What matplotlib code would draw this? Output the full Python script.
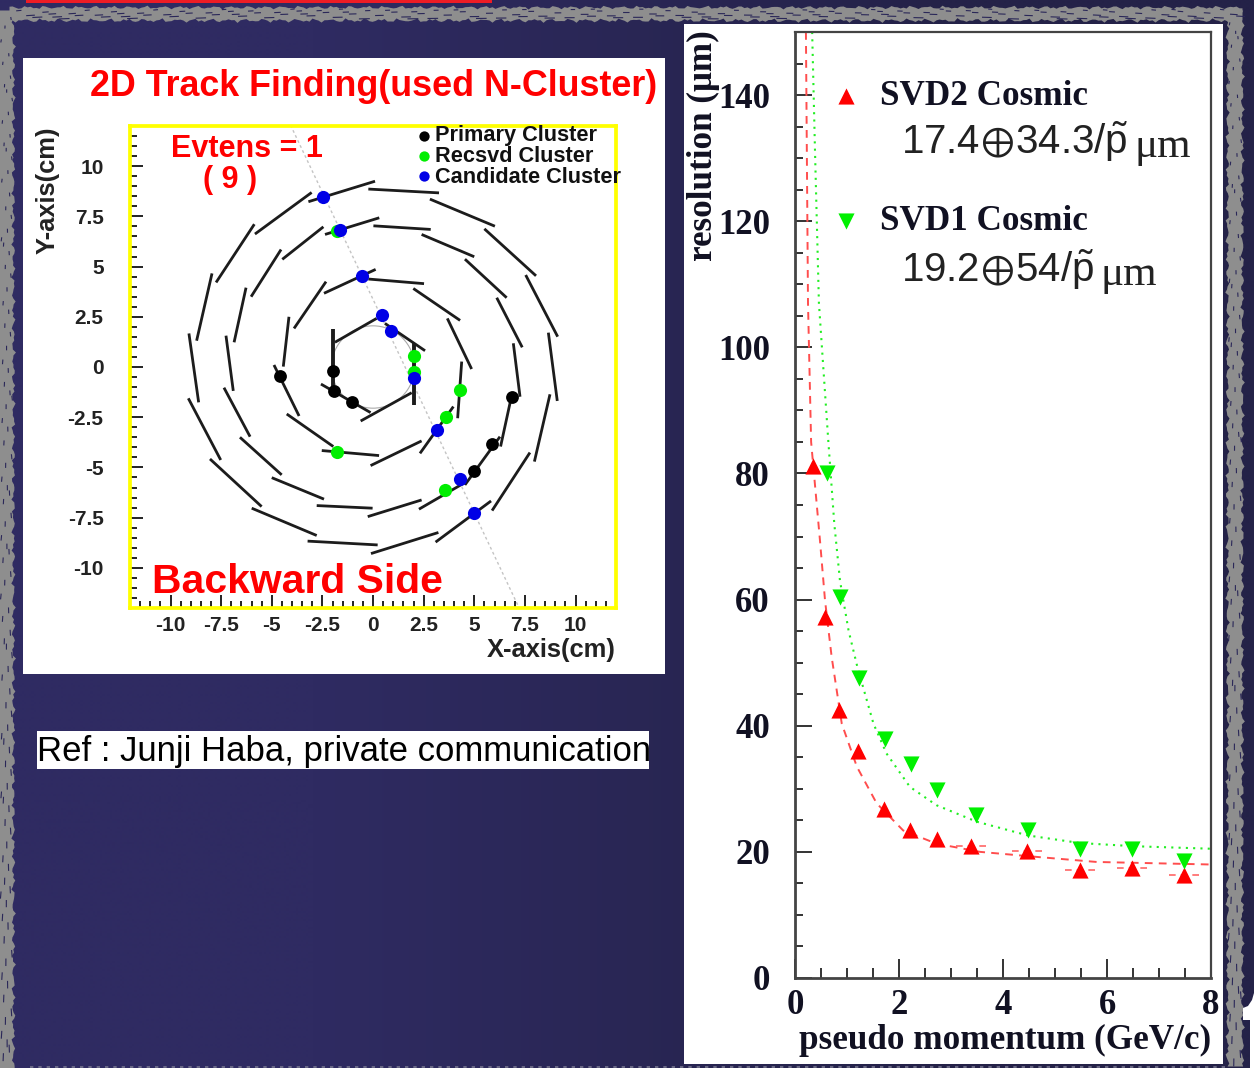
import numpy as np
import matplotlib
matplotlib.use("Agg")
import matplotlib.pyplot as plt
from matplotlib.patches import Rectangle, Circle, Polygon
from matplotlib.collections import LineCollection
from matplotlib.ticker import MultipleLocator

W, H = 1254, 1068

# ---------- left panel data (cm) ----------
ring4 = [(-3.19,8.23,0.10,9.25),(-0.23,8.86,3.26,8.67),(2.81,8.36,6.02,7.01),(5.50,6.88,8.05,4.54),
         (7.54,4.58,9.12,1.51),(8.66,1.71,9.10,-1.69),(8.74,-1.36,7.97,-4.71),(7.75,-4.26,5.88,-7.15),
         (5.83,-6.67,3.09,-8.72),(3.23,-8.24,-0.10,-9.29),(0.23,-8.86,-3.23,-8.67),(-2.78,-8.39,-5.99,-7.03),
         (-5.50,-6.95,-8.05,-4.58),(-7.52,-4.63,-9.12,-1.56),(-8.61,-1.76,-9.09,1.67),(-8.71,1.31,-7.95,4.66),
         (-7.75,4.21,-5.86,7.11),(-5.83,6.62,-3.03,8.69)]
ring3 = [(-2.37,6.60,0.31,7.43),(0.02,7.03,2.85,6.85),(2.40,6.60,5.00,5.49),(4.54,5.37,6.60,3.45),
         (6.11,3.45,7.37,0.98),(6.93,1.18,7.26,-1.48),(6.80,-1.64,6.30,-3.96),(6.27,-3.47,4.54,-5.87),
         (4.63,-5.70,2.27,-7.08),(2.40,-6.62,-0.26,-7.45),(-0.02,-7.03,-2.78,-6.90),(-2.42,-6.58,-5.00,-5.51),
         (-4.51,-5.37,-6.57,-3.50),(-6.07,-3.47,-7.36,-1.03),(-6.90,-1.19,-7.26,1.56),(-6.86,1.23,-6.27,3.95),
         (-6.02,3.50,-4.54,5.85),(-4.48,5.36,-2.45,6.98)]
ring2 = [(-2.42,3.67,0.13,4.86),(-0.23,4.38,2.52,4.15),(1.99,3.91,4.30,2.32),(3.67,2.42,4.87,-0.10),
         (4.38,0.27,4.18,-2.55),(3.97,-1.97,2.32,-4.30),(2.40,-3.68,-0.12,-4.91),(0.30,-4.41,-2.53,-4.16),
         (-1.96,-3.96,-4.26,-2.34),(-3.65,-2.44,-4.89,0.10),(-4.43,0.02,-4.15,2.50),(-3.90,1.92,-2.32,4.25)]
ring1 = [(-1.88,1.23,0.18,2.42),(0.59,2.17,2.57,0.81),(1.91,-1.28,-0.61,-2.69),(-0.12,-2.27,-2.57,-0.85)]
ring1_thick = [(2.04,1.18,2.04,-1.89),(-1.99,-1.48,-1.99,1.89)]
track_x = [-4.07, 7.18]
track_y = [12.04, -11.92]
primary_x = [-4.59,-1.99,-1.93,-1.05,6.85,5.88,4.99]
primary_y = [-0.45,-0.20,-1.19,-1.72,-1.51,-3.81,-5.19]
recsvd_x = [2.01,2.01,4.28,3.60,-1.79,3.56,-1.79]
recsvd_y = [0.53,-0.27,-1.14,-2.47,-4.23,-6.12,6.78]
cand_x = [-2.45,-1.61,-0.53,0.46,0.91,2.01,3.16,4.28,5.00]
cand_y = [8.44,6.82,4.54,2.57,1.79,-0.56,-3.12,-5.56,-7.28]
left_ticks = [-10,-7.5,-5,-2.5,0,2.5,5,7.5,10]
left_ticklabels = ["-10","-7.5","-5","-2.5","0","2.5","5","7.5","10"]

# ---------- right panel data ----------
svd2_p = [0.35,0.58,0.84,1.21,1.72,2.22,2.74,3.39,4.47,5.48,6.48,7.48]
svd2_r = [81.2,57.2,42.5,36.0,26.8,23.4,22.0,20.9,20.2,17.1,17.5,16.4]
svd1_p = [0.61,0.87,1.24,1.73,2.23,2.74,3.49,4.49,5.49,6.49,7.49]
svd1_r = [80.1,60.4,47.6,37.9,33.9,29.8,25.9,23.5,20.4,20.4,18.5]
fit2_p = [0.21,0.25,0.31,0.48,0.577,0.705,0.90,1.19,1.57,2.08,2.72,3.56,4.65,5.80,7.98]
fit2_r = [150,107,85,69.4,59.9,50.9,40.3,33.5,27.7,23.4,21.3,20.0,19.2,18.4,18.0]
fit1_p = [0.33,0.385,0.46,0.64,0.756,0.865,1.03,1.20,1.51,1.76,2.21,2.72,3.49,4.48,5.48,6.51,7.98]
fit1_r = [150,131,107,85.2,72,63,55.1,49.3,40.3,35.6,30.3,27.4,24.8,22.6,21.4,20.9,20.5]
right_xticks = [0,2,4,6,8]
right_yticks = [0,20,40,60,80,100,120,140]

plt.rcParams['font.family'] = ['Liberation Sans', 'DejaVu Sans']
plt.rcParams['mathtext.fontset'] = 'custom'
plt.rcParams['mathtext.rm'] = 'Liberation Sans'
plt.rcParams['mathtext.it'] = 'Liberation Sans'
plt.rcParams['mathtext.fallback'] = 'stixsans'
fig = plt.figure(figsize=(W/100, H/100), dpi=100)

def axes_px(l, t, r, b, **kw):
    return fig.add_axes([l/W, 1-b/H, (r-l)/W, (b-t)/H], **kw)

def T(x, y, s, **kw):
    kw.setdefault('ha', 'left')
    kw.setdefault('va', 'center')
    return fig.text(x/W, 1-y/H, s, **kw)

# ---------- page background ----------
bg = axes_px(0, 0, W, H)
bg.set_xlim(0, W); bg.set_ylim(H, 0); bg.axis('off')
grad = np.zeros((2, 2, 3))
grad[:, 0] = np.array([47, 43, 98])/255
grad[:, 1] = np.array([36, 34, 72])/255
bg.imshow(grad, extent=(0, W, H, 0), aspect='auto', interpolation='bilinear', zorder=0)
bg.set_xlim(0, W); bg.set_ylim(H, 0)

GR = '#8e8e8e'
NV = '#2a2758'
def wob(t, a, b):
    return a*np.sin(t*0.37+b) + 0.6*a*np.sin(t*1.13+2*b) + 0.5*a*np.sin(t*2.71+3*b)

tx = np.arange(9, 1244, 3.0)
bg.fill_between(tx, 7+wob(tx,1.0,1), 20+wob(tx,1.2,2), color=GR, lw=0, zorder=1)
ty = np.arange(10, H+3, 3.0)
bg.fill_betweenx(ty, -1, 13+wob(ty,1.2,3), color=GR, lw=0, zorder=1)
ty2 = ty[ty < 1068]
bg.fill_betweenx(ty2, 1227+wob(ty2,1.2,4), 1242+wob(ty2,1.2,5), color=GR, lw=0, zorder=1)

# texture in the grey frame (decoration only)
idx = np.arange(1, 360)
fr = (idx*0.6180339887) % 1
fr2 = (idx*0.7548776662) % 1
segs = []
for f, g in zip(fr[:160], fr2[:160]):
    x0 = 10+f*1230; y0 = 9+g*10
    segs.append([(x0, y0), (x0+4+7*g, y0+1.0*(f-0.5))])
for f, g in zip(fr[160:260], fr2[160:260]):
    y0 = 15+f*1050; x0 = 1+g*11
    segs.append([(x0, y0), (x0+1.2*(g-0.5), y0+3+5*f)])
for f, g in zip(fr[260:], fr2[260:]):
    y0 = 15+f*1050; x0 = 1229+g*12
    segs.append([(x0, y0), (x0+1.2*(g-0.5), y0+3+5*f)])
bg.add_collection(LineCollection(segs, colors=NV, linewidths=0.8, zorder=2))

bg.add_patch(Rectangle((26, 0), 466, 3, color='#ee1c25', lw=0, zorder=3))
bg.plot([30, 1225], [1066.5, 1066.5], color='#77768f', lw=1.2, ls=(0, (2, 3)), zorder=3)
# bottom right corner of the page
bg.add_patch(Polygon([(1243, 1008), (1248, 1006), (1252, 1000), (1254, 993), (1254, 1020), (1243, 1020)],
                     closed=True, color='white', lw=0, zorder=3))
bg.add_patch(Rectangle((1250, 1020), 5, 50, color='white', lw=0, zorder=3))

# white panels
bg.add_patch(Rectangle((23, 58), 642, 616, color='white', lw=0, zorder=4))
bg.add_patch(Rectangle((684, 24), 539, 1040, color='white', lw=0, zorder=4))
bg.add_patch(Rectangle((37, 731), 612, 38, color='white', lw=0, zorder=4))

# ---------- left panel ----------
ax = axes_px(130, 126, 616, 608)
ax.set_xlim(-12, 12); ax.set_ylim(-12, 12)
ax.patch.set_alpha(0)
for s in ax.spines.values():
    s.set_color('#ffff00'); s.set_linewidth(2.7)
ax.set_xticks(left_ticks); ax.set_xticklabels(left_ticklabels)
ax.set_yticks(left_ticks); ax.set_yticklabels(left_ticklabels)
ax.xaxis.set_minor_locator(MultipleLocator(0.5))
ax.yaxis.set_minor_locator(MultipleLocator(0.5))
ax.tick_params(which='major', direction='in', length=9.5, width=1.4, color='#222222')
ax.tick_params(which='minor', direction='in', length=5, width=1.4, color='#222222')
ax.tick_params(axis='x', which='major', pad=6, labelsize=15, labelcolor='#222222')
ax.tick_params(axis='y', which='major', pad=19, labelsize=15, labelcolor='#222222')
for lb in ax.get_xticklabels()+ax.get_yticklabels():
    lb.set_fontweight('bold')

ax.add_patch(Circle((0, 0), 2.05, fill=False, ec='#aaaaaa', lw=0.8, zorder=1))
ax.plot(track_x, track_y, color='#c4c4c4', lw=1.0, ls=(0, (2, 2)), zorder=1)
def draw_segments(segments, lw):
    for x0, y0, x1, y1 in segments:
        ax.plot([x0, x1], [y0, y1], color='#1c1c1c', lw=lw, solid_capstyle='butt', zorder=2)
draw_segments(ring4, 2.0)
draw_segments(ring3, 2.0)
draw_segments(ring2, 2.0)
draw_segments(ring1, 2.0)
draw_segments(ring1_thick, 2.8)
ax.scatter(primary_x, primary_y, s=85, color='black', lw=0, zorder=3)
ax.scatter(recsvd_x, recsvd_y, s=90, color='#00ee00', lw=0, zorder=4)
ax.scatter(cand_x, cand_y, s=90, color='#0000e6', lw=0, zorder=5)
ax.scatter([2.52], [11.5], s=55, color='black', lw=0, clip_on=False, zorder=5)
ax.scatter([2.52], [10.5], s=55, color='#00ee00', lw=0, clip_on=False, zorder=5)
ax.scatter([2.52], [9.5], s=55, color='#0000e6', lw=0, clip_on=False, zorder=5)

RED = '#ff0000'
T(90, 87, "2D Track Finding(used N-Cluster)", color=RED, fontsize=25.8, fontweight='bold')
T(171, 149, "Evtens = 1", color=RED, fontsize=22, fontweight='bold')
T(203, 180, "( 9 )", color=RED, fontsize=22, fontweight='bold')
T(152, 582, "Backward Side", color=RED, fontsize=29.4, fontweight='bold')
T(435, 136, "Primary Cluster", color='#111111', fontsize=15.7, fontweight='bold')
T(435, 156.8, "Recsvd Cluster", color='#111111', fontsize=15.7, fontweight='bold')
T(435, 177.6, "Candidate Cluster", color='#111111', fontsize=15.7, fontweight='bold')
T(616, 650, "X-axis(cm)", color='#222222', fontsize=18.4, fontweight='bold', ha='right')
T(48, 190, "Y-axis(cm)", color='#222222', fontsize=18.4, fontweight='bold', rotation=90, ha='center')
T(37, 751, "Ref : Junji Haba, private communication", color='black', fontsize=25)

# ---------- right panel ----------
SERIF = ['Liberation Serif', 'DejaVu Serif']
ar = axes_px(795, 32, 1211, 978)
ar.set_xlim(0, 8); ar.set_ylim(0, 150)
ar.patch.set_alpha(0)
for k, s in ar.spines.items():
    s.set_color('#444444')
    s.set_linewidth(2.0 if k in ('left', 'bottom') else 1.6)
ar.set_xticks(right_xticks); ar.set_yticks(right_yticks)
ar.xaxis.set_minor_locator(MultipleLocator(0.5))
ar.yaxis.set_minor_locator(MultipleLocator(5))
ar.tick_params(axis='x', which='major', direction='in', length=13.5, width=1.4, color='#333333', pad=8)
ar.tick_params(axis='x', which='minor', direction='in', length=7, width=1.4, color='#333333')
ar.tick_params(axis='y', which='major', direction='in', length=12.5, width=1.4, color='#333333', pad=18)
ar.tick_params(axis='y', which='minor', direction='in', length=6, width=1.4, color='#333333')
for lb in ar.get_xticklabels()+ar.get_yticklabels():
    lb.set_fontfamily(SERIF); lb.set_fontweight('bold'); lb.set_fontsize(25); lb.set_color('#111122')

ar.plot(fit2_p, fit2_r, color='#ff4d4d', lw=1.4, ls=(0, (4, 3.2)), zorder=2)
ar.plot(fit1_p, fit1_r, color='#22ee22', lw=1.5, ls=(0, (1, 2.5)), zorder=2)
ar.hlines(svd2_r[7:], np.array(svd2_p[7:])-0.29, np.array(svd2_p[7:])+0.29,
          color='#ff6666', lw=1.2, ls=(0, (4, 3)), zorder=2)
ar.scatter(svd2_p, svd2_r, marker='^', s=135, color='#ff0000', lw=0, zorder=3, clip_on=False)
ar.scatter(svd1_p, svd1_r, marker='v', s=135, color='#00f000', lw=0, zorder=4, clip_on=False)
ar.scatter([0.985], [139.8], marker='^', s=135, color='#ff0000', lw=0, zorder=4)
ar.scatter([0.985], [120], marker='v', s=135, color='#00f000', lw=0, zorder=4)

INK = '#111122'
T(880, 97, "SVD2 Cosmic", color=INK, fontsize=25.3, fontweight='bold', family=SERIF)
T(880, 222, "SVD1 Cosmic", color=INK, fontsize=25.3, fontweight='bold', family=SERIF)
T(901, 142, "$17.4\\!\\oplus\\!34.3/\\tilde{\\mathrm{p}}$", color='#222222', fontsize=29)
T(1134, 147, "\u03bcm", color='#222222', fontsize=31, family=SERIF)
T(901, 270, "$19.2\\!\\oplus\\!54/\\tilde{\\mathrm{p}}$", color='#222222', fontsize=29)
T(1100, 275, "\u03bcm", color='#222222', fontsize=31, family=SERIF)
T(703, 146, "resolution (\u03bcm)", color=INK, fontsize=25.2, fontweight='bold', family=SERIF,
  rotation=90, ha='center')
T(1211, 1040, "pseudo momentum (GeV/c)", color=INK, fontsize=25.3, fontweight='bold', family=SERIF, ha='right')

fig.savefig("out.png", dpi=100)
